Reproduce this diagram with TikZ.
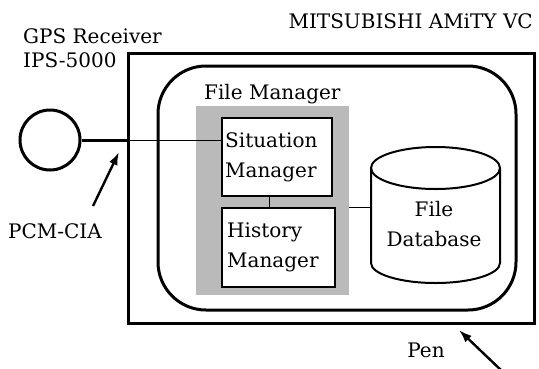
\documentclass[tikz,border=0pt]{standalone}
\usepackage{fontspec}
\setmainfont{DejaVu Serif}
\usetikzlibrary{arrows.meta}
\begin{document}
\begin{tikzpicture}[x=1pt,y=-1pt,
  lbl/.style={inner sep=0pt, font=\fontsize{20}{24}\selectfont},
  frame/.style={draw, line width=3pt, inner sep=0pt},
  mbox/.style={draw, line width=2pt, fill=white, inner sep=0pt},
  thinline/.style={line width=0.9pt},
  pointer/.style={line width=2.4pt, -{Latex[length=13pt,width=9pt]}}]
\useasboundingbox (0,0) rectangle (539,368);
% frames
\node[frame, minimum width=406pt, minimum height=270pt] (outer) at (331,188) {};
\node[frame, rounded corners=48pt, minimum width=358pt, minimum height=244pt] (inner) at (337,188) {};
\node[fill=black!27, inner sep=0pt, minimum width=153pt, minimum height=189pt] (fm) at (272.5,200.5) {};
\node[mbox, minimum width=110pt, minimum height=78pt] (sit) at (277,157) {};
\node[mbox, minimum width=113pt, minimum height=79pt] (hist) at (278.5,247.5) {};
% database cylinder
\draw[line width=2pt, fill=white] (371,168) -- (371,263)
  arc[start angle=180, end angle=360, x radius=64.5pt, y radius=20pt] -- (500,168);
\draw[line width=2pt] (435.5,168) ellipse[x radius=64.5pt, y radius=21pt];
\node[inner sep=0pt, minimum width=129pt, minimum height=95pt] (db) at (435.5,215.5) {};
% GPS receiver
\node[draw, circle, line width=3pt, minimum size=60pt, inner sep=0pt] (gps) at (50,140) {};
% connectors
\coordinate (cx) at (269,0);
\coordinate (cy) at (0,207);
\draw[line width=3pt] (gps.east) -- (gps.east -| outer.west);
\draw[thinline] (gps.east -| outer.west) -- (gps.east -| sit.west);
\draw[thinline] (sit.south -| cx) -- (hist.north -| cx);
\draw[thinline] (fm.east |- cy) -- (db.west |- cy);
% labels
\node[lbl, anchor=base west] (gpslbl) at (23,43) {GPS Receiver};
\node[lbl, anchor=base west] (ipslbl) at (23,67) {IPS-5000};
\node[lbl, anchor=base east] (amity) at (533,28) {MITSUBISHI AMiTY VC};
\node[lbl, anchor=base west] (fmlbl) at (204,99) {File Manager};
\node[lbl, anchor=base west] (sit1) at (225,147) {Situation};
\node[lbl, anchor=base west] (sit2) at (225,177) {Manager};
\node[lbl, anchor=base west] (hist1) at (227,237) {History};
\node[lbl, anchor=base west] (hist2) at (227,267) {Manager};
\node[lbl, anchor=base] (db1) at (434,216) {File};
\node[lbl, anchor=base] (db2) at (434,246) {Database};
\node[lbl, anchor=base west] (pcm) at (8,238) {PCM-CIA};
\node[lbl, anchor=base] (pen) at (426,357) {Pen};
% pointers
\coordinate (pcmtail) at (93,206);
\coordinate (pcmtip) at (119,152);
\draw[pointer] (pcmtail) -- (pcmtip);
\coordinate (pentail) at (503,372);
\coordinate (pentip) at (459,330);
\draw[pointer] (pentail) -- (pentip);
\end{tikzpicture}
\end{document}
